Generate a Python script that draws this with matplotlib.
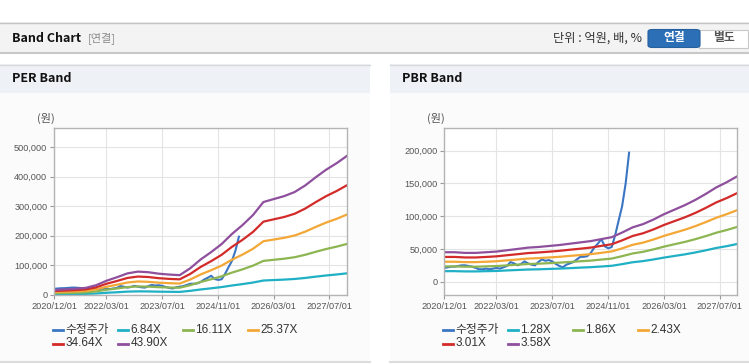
import matplotlib
matplotlib.use("Agg")
import matplotlib.pyplot as plt
import matplotlib.ticker as mticker
from matplotlib.patches import Rectangle, FancyBboxPatch
from matplotlib.lines import Line2D
import pandas as pd

plt.rcParams['font.family'] = ['Liberation Sans', 'Noto Sans CJK KR', 'DejaVu Sans']

# quarterly dates for the bands, monthly dates for the price
band_dates = pd.date_range('2020-12-01', periods=29, freq='3MS')
price_dates = pd.date_range('2020-12-01', periods=54, freq='MS')

# 수정주가 (원)
price = [21000, 22000, 23000, 23000, 24000, 25000, 25000, 24000, 23000, 21000,
         19000, 19000, 20000, 19000, 20000, 21000, 20000, 22000, 24000, 30000,
         28000, 25000, 27000, 31000, 28000, 26000, 25000, 30000, 34000, 32000,
         33000, 31000, 27000, 24000, 22000, 26000, 28000, 30000, 34000, 38000,
         38000, 39000, 44000, 52000, 58000, 65000, 54000, 51000, 53000, 72000,
         95000, 115000, 150000, 197000]

# PER band (원)
per_labels = ['6.84X', '16.11X', '25.37X', '34.64X', '43.90X']
per_684 = [2600, 3000, 3300, 3700, 5100, 7500, 9300, 11400, 12300, 12000, 11200,
           10800, 10400, 14000, 18700, 22600, 26800, 32100, 36800, 42100, 48900,
           50500, 52000, 54200, 57600, 61900, 65900, 69300, 73200]
per_1611 = [6200, 7000, 7700, 8800, 12100, 17600, 22000, 26800, 29000, 28300, 26400,
            25300, 24600, 33000, 44000, 53200, 63100, 75600, 86600, 99100, 115200,
            118900, 122600, 127700, 135800, 145700, 155200, 163300, 172500]
per_2537 = [9800, 11000, 12100, 13900, 19100, 27700, 34700, 42200, 45700, 44500, 41600,
            39900, 38700, 52000, 69400, 83800, 99400, 119100, 136400, 156100, 181500,
            187300, 193100, 201100, 213900, 229500, 244500, 257200, 271700]
per_3464 = [13400, 15000, 16600, 18900, 26000, 37900, 47300, 57600, 62300, 60800, 56800,
            54400, 52900, 71000, 94700, 114400, 135700, 162500, 186200, 213000, 247700,
            255600, 263500, 274600, 291900, 313200, 333700, 351100, 370800]
per_4390 = [17000, 19000, 21000, 24000, 33000, 48000, 60000, 73000, 79000, 77000, 72000,
            69000, 67000, 90000, 120000, 145000, 172000, 206000, 236000, 270000, 314000,
            324000, 334000, 348000, 370000, 397000, 423000, 445000, 470000]

# PBR band (원)
pbr_labels = ['1.28X', '1.86X', '2.43X', '3.01X', '3.58X']
pbr_128 = [16100, 16100, 15700, 15700, 16100, 16400, 17200, 17900, 18600, 18900, 19500,
           20000, 20700, 21500, 22200, 23200, 24300, 26800, 29700, 31500, 34000,
           36800, 39300, 41800, 44700, 47900, 51500, 54300, 57600]
pbr_186 = [23400, 23400, 22900, 22900, 23400, 23900, 24900, 26000, 27000, 27500, 28300,
           29100, 30100, 31200, 32200, 33800, 35300, 39000, 43100, 45700, 49400,
           53500, 57200, 60800, 65000, 69600, 74800, 79000, 83700]
pbr_243 = [30500, 30500, 29900, 29900, 30500, 31200, 32600, 33900, 35300, 36000, 37000,
           38000, 39400, 40700, 42100, 44100, 46200, 50900, 56300, 59700, 64500,
           69900, 74700, 79400, 84900, 91000, 97700, 103200, 109300]
pbr_301 = [37800, 37800, 37000, 37000, 37800, 38700, 40400, 42000, 43700, 44600, 45800,
           47100, 48800, 50400, 52100, 54700, 57200, 63100, 69800, 74000, 79900,
           86600, 92500, 98400, 105100, 112700, 121100, 127800, 135400]
pbr_358 = [45000, 45000, 44000, 44000, 45000, 46000, 48000, 50000, 52000, 53000, 54500,
           56000, 58000, 60000, 62000, 65000, 68000, 75000, 83000, 88000, 95000,
           103000, 110000, 117000, 125000, 134000, 144000, 152000, 161000]

xtick_dates = pd.to_datetime(['2020-12-01', '2022-03-01', '2023-07-01',
                              '2024-11-01', '2026-03-01', '2027-07-01'])

price_color = '#3b76c4'
band_colors = ['#1fb0c5', '#8db552', '#f3a736', '#d22b2a', '#8e4f9d']

W, H = 749, 364
fig = plt.figure(figsize=(W / 100, H / 100), dpi=100)
fig.patch.set_facecolor('white')


def px(x, y, w, h, **kw):
    # rectangle in pixel units, y measured from the top
    fig.add_artist(Rectangle((x / W, 1 - (y + h) / H), w / W, h / H,
                             transform=fig.transFigure, zorder=-10, **kw))


def hline(x0, x1, y, color, lw=1):
    fig.add_artist(Line2D([x0 / W, x1 / W], [1 - y / H, 1 - y / H],
                          transform=fig.transFigure, color=color, lw=lw, zorder=-5))


def txt(x, y, s, **kw):
    fig.text(x / W, 1 - y / H, s, va='center', **kw)


# top header bar
px(0, 22, 749, 31, facecolor='#f3f3f3', edgecolor='none')
hline(0, 749, 22.5, '#c4c4c4')
hline(0, 749, 52.5, '#c8c8c8', lw=1.5)
txt(12, 38, 'Band Chart', fontsize=9, fontweight='bold', color='#111111',
    family=['Noto Sans CJK KR', 'DejaVu Sans'])
txt(88, 38, '[연결]', fontsize=8, color='#8a8a8a', family=['Noto Sans CJK KR'])
txt(553, 38, '단위 : 억원, 배, %', fontsize=8.8, color='#333333',
    family=['Noto Sans CJK KR', 'DejaVu Sans'])
fig.add_artist(FancyBboxPatch((699 / W, 1 - 47.5 / H), 49 / W, 18 / H,
                              boxstyle='square,pad=0', transform=fig.transFigure,
                              facecolor='white', edgecolor='#c8c8c8', lw=0.8))
fig.add_artist(FancyBboxPatch((648 / W, 1 - 47.5 / H), 52 / W, 18 / H,
                              boxstyle='round,pad=0,rounding_size=0.006',
                              transform=fig.transFigure,
                              facecolor='#2d6fb6', edgecolor='#25609f', lw=0.8))
txt(674, 38, '연결', fontsize=8.5, fontweight='bold', color='white', ha='center',
    family=['Noto Sans CJK KR'])
txt(724, 38, '별도', fontsize=8.5, fontweight='bold', color='#555555', ha='center',
    family=['Noto Sans CJK KR'])

panels = [
    dict(x0=0, x1=370, title='PER Band', ax_left=54.3, ax_right=347,
         ylim=(0, 563000), yticks=range(0, 500001, 100000),
         bands=[per_684, per_1611, per_2537, per_3464, per_4390], labels=per_labels),
    dict(x0=390, x1=749, title='PBR Band', ax_left=444.3, ax_right=737.3,
         ylim=(-20300, 234200), yticks=range(0, 200001, 50000),
         bands=[pbr_128, pbr_186, pbr_243, pbr_301, pbr_358], labels=pbr_labels),
]

ax_top, ax_bottom = 128.3, 295

for p in panels:
    x0, x1 = p['x0'], p['x1']
    px(x0, 93, x1 - x0, 269, facecolor='#fbfbfb', edgecolor='none')
    px(x0, 64, x1 - x0, 29, facecolor='#eef1f6', edgecolor='none')
    hline(x0, x1, 64.5, '#d8d8d8')
    hline(x0, x1, 362, '#dcdcdc', lw=1.5)
    txt(x0 + 12, 79, p['title'], fontsize=9, fontweight='bold', color='#111111',
        family=['Noto Sans CJK KR', 'DejaVu Sans'])
    txt(p['ax_left'] - 17, 118, '(원)', fontsize=8, color='#555555',
        family=['Noto Sans CJK KR'])

    ax = fig.add_axes([p['ax_left'] / W, 1 - ax_bottom / H,
                       (p['ax_right'] - p['ax_left']) / W, (ax_bottom - ax_top) / H])
    ax.set_facecolor('white')
    ax.plot(price_dates, price, color=price_color, lw=1.5, label='수정주가')
    for vals, c, lab in zip(p['bands'], band_colors, p['labels']):
        ax.plot(band_dates, vals, color=c, lw=1.6, label=lab)
    ax.set_xlim(band_dates[0], band_dates[-1])
    ax.set_ylim(*p['ylim'])
    ax.set_xticks(xtick_dates)
    ax.set_xticklabels([d.strftime('%Y/%m/%d') for d in xtick_dates])
    ax.set_yticks(list(p['yticks']))
    ax.yaxis.set_major_formatter(mticker.FuncFormatter(lambda v, _: f'{int(v):,}'))
    ax.grid(True, color='#e4e4e4', lw=0.8)
    ax.set_axisbelow(True)
    for s in ax.spines.values():
        s.set_color('#b4b4b4')
        s.set_linewidth(1)
    ax.tick_params(axis='both', length=3, width=0.8, color='#9a9a9a',
                   labelsize=6.6, labelcolor='#555555', pad=2)

    # legend, two rows of four columns
    handles = [('수정주가', price_color)] + list(zip(p['labels'], band_colors))
    for i, (lab, c) in enumerate(handles):
        lx = x0 + 53 + (i % 4) * 65
        ly = 330 + (i // 4) * 13.5
        fig.add_artist(Line2D([lx / W, (lx + 10) / W], [1 - ly / H, 1 - ly / H],
                              transform=fig.transFigure, color=c, lw=2))
        txt(lx + 12.5, ly, lab, fontsize=8.5, color='#333333',
            family=['Liberation Sans', 'Noto Sans CJK KR'])

fig.savefig('out.png', dpi=100)
